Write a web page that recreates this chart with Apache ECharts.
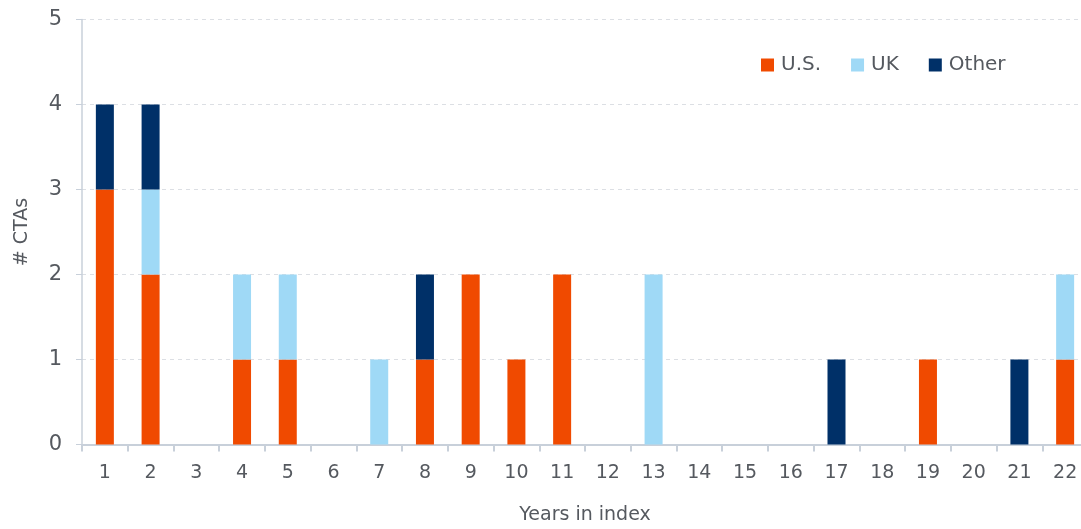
<!DOCTYPE html>
<html><head><meta charset="utf-8">
<script src="https://cdn.jsdelivr.net/npm/echarts@6/dist/echarts.min.js"></script>
<style>html,body{margin:0;padding:0;background:#fff}#c{width:1081px;height:529px}</style>
</head><body><div id="c"></div>
<script>
const categories = ['1','2','3','4','5','6','7','8','9','10','11','12','13','14','15','16','17','18','19','20','21','22'];
const usValues    = [3,2,0,1,1,0,0,1,2,1,2,0,0,0,0,0,0,0,1,0,0,1];
const ukValues    = [0,1,0,1,1,0,1,0,0,0,0,0,2,0,0,0,0,0,0,0,0,1];
const otherValues = [1,1,0,0,0,0,0,1,0,0,0,0,0,0,0,0,1,0,0,0,1,0];
const yTicks = [0,1,2,3,4,5];

const font = '"DejaVu Sans", Lato, sans-serif';
const textColor = '#55595f';
const chart = echarts.init(document.getElementById('c'));
function s(name, data, color){
  return {name, type:'bar', stack:'t', data, barWidth:18, itemStyle:{color}, emphasis:{disabled:true}};
}
chart.setOption({
  animation:false,
  grid:{left:82, top:19.5, width:1006, height:425, containLabel:false, outerBoundsMode:'none'},
  legend:{left:756, top:50, itemWidth:13, itemHeight:13, itemGap:30, icon:'rect',
    textStyle:{fontFamily:font, fontSize:20, color:textColor, padding:[0,0,0,2]},
    data:['U.S.','UK','Other']},
  xAxis:{type:'category', data:categories, name:'Years in index', nameLocation:'middle', nameGap:61,
    nameTextStyle:{fontFamily:font, fontSize:19, color:textColor},
    axisLine:{lineStyle:{color:'#c8d0da', width:2}},
    axisTick:{show:true, length:7, lineStyle:{color:'#c8d0da', width:2}},
    axisLabel:{fontFamily:font, fontSize:19, color:textColor, margin:19}},
  yAxis:{type:'value', min:0, max:5, interval:1, name:'# CTAs', nameLocation:'middle', nameGap:50,
    nameTextStyle:{fontFamily:font, fontSize:19, color:textColor},
    axisLine:{show:true, lineStyle:{color:'#c8d0da', width:1.5}},
    axisTick:{show:true, length:6, lineStyle:{color:'#c8d0da'}},
    axisLabel:{fontFamily:font, fontSize:21, color:textColor, margin:20,
      formatter:v=>yTicks.includes(v)?String(v):''},
    splitLine:{lineStyle:{color:'#dcdfe4', type:[4,4]}}},
  series:[s('U.S.', usValues, '#f04a00'), s('UK', ukValues, '#9fd9f6'), s('Other', otherValues, '#003068')]
});
</script></body></html>
